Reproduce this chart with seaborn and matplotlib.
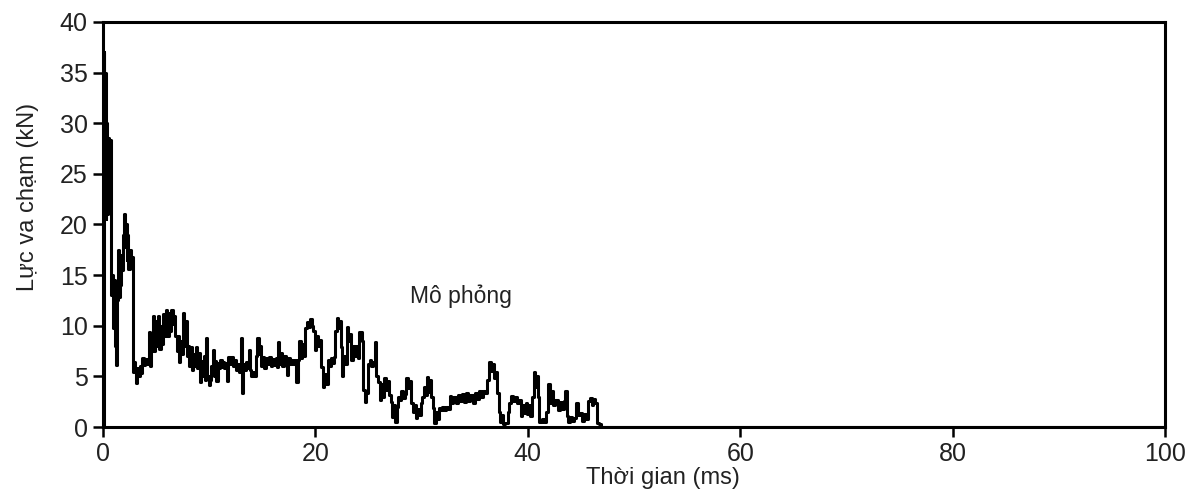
import pandas as pd
import matplotlib
matplotlib.use("Agg")
import matplotlib.pyplot as plt
import seaborn as sns

# Impact force trace (time in ms, force in kN)
time_ms = [
    0.00, 0.05, 0.12, 0.18, 0.25, 0.32, 0.40, 0.45, 0.55, 0.65, 0.72, 0.80, 0.88, 0.95, 1.02,
    1.10, 1.18, 1.25, 1.32, 1.40, 1.48, 1.56, 1.64, 1.72, 1.82, 1.90, 1.98, 2.06, 2.14, 2.22,
    2.30, 2.40, 2.50, 2.60, 2.68, 2.78, 2.90, 3.00, 3.10, 3.22, 3.34, 3.45, 3.56, 3.70, 3.84,
    3.98, 4.12, 4.30, 4.40, 4.55, 4.70, 4.80, 4.92, 5.05, 5.18, 5.30, 5.42, 5.55, 5.68, 5.80,
    5.92, 6.05, 6.18, 6.30, 6.42, 6.55, 6.68, 6.82, 6.95, 7.05, 7.15, 7.28, 7.42, 7.55, 7.65,
    7.75, 7.88, 8.00, 8.12, 8.25, 8.38, 8.50, 8.62, 8.75, 8.88, 9.00, 9.12, 9.25, 9.38, 9.50,
    9.62, 9.72, 9.82, 9.95, 10.07, 10.20, 10.32, 10.42, 10.55, 10.68, 10.80, 10.92, 11.05, 11.18, 11.30,
    11.42, 11.55, 11.68, 11.80, 11.95, 12.10, 12.25, 12.40, 12.55, 12.70, 12.85, 13.00, 13.08, 13.18, 13.30,
    13.45, 13.60, 13.72, 13.84, 13.96, 14.10, 14.25, 14.40, 14.52, 14.65, 14.80, 14.92, 15.05, 15.20, 15.35,
    15.50, 15.65, 15.80, 15.95, 16.10, 16.25, 16.38, 16.50, 16.62, 16.75, 16.90, 17.05, 17.20, 17.30, 17.42,
    17.58, 17.72, 17.88, 18.05, 18.20, 18.35, 18.50, 18.62, 18.75, 18.90, 19.05, 19.20, 19.35, 19.50, 19.65,
    19.80, 19.95, 20.10, 20.25, 20.40, 20.55, 20.70, 20.85, 21.00, 21.15, 21.30, 21.45, 21.60, 21.75, 21.88,
    22.00, 22.12, 22.25, 22.38, 22.50, 22.62, 22.80, 22.95, 23.10, 23.25, 23.40, 23.55, 23.70, 23.85, 24.00,
    24.15, 24.35, 24.50, 24.65, 24.80, 24.95, 25.10, 25.25, 25.45, 25.60, 25.75, 25.90, 26.05, 26.20, 26.35,
    26.50, 26.65, 26.80, 26.95, 27.10, 27.25, 27.40, 27.52, 27.65, 27.80, 27.95, 28.10, 28.25, 28.40, 28.55,
    28.70, 28.85, 29.00, 29.15, 29.30, 29.45, 29.60, 29.75, 29.90, 30.05, 30.20, 30.35, 30.50, 30.62, 30.75,
    30.90, 31.05, 31.20, 31.35, 31.50, 31.62, 31.80, 31.95, 32.10, 32.30, 32.50, 32.65, 32.80, 33.00, 33.20,
    33.40, 33.60, 33.80, 34.00, 34.20, 34.40, 34.60, 34.80, 35.00, 35.20, 35.40, 35.60, 35.80, 36.00, 36.20,
    36.35, 36.50, 36.65, 36.80, 36.95, 37.10, 37.25, 37.40, 37.55, 37.70, 37.90, 38.10, 38.25, 38.40, 38.60,
    38.80, 39.00, 39.20, 39.35, 39.50, 39.65, 39.80, 39.95, 40.10, 40.25, 40.40, 40.55, 40.68, 40.80, 40.95,
    41.10, 41.30, 41.50, 41.70, 41.90, 42.05, 42.20, 42.40, 42.60, 42.80, 43.00, 43.20, 43.40, 43.50, 43.65,
    43.80, 44.00, 44.15, 44.35, 44.55, 44.70, 44.90, 45.10, 45.30, 45.50, 45.70, 45.85, 46.00, 46.15, 46.30,
    46.50, 46.70, 46.85, 100.0,
]
force_kn = [
    0.0, 37.0, 24.0, 35.0, 20.5, 30.0, 21.0, 28.5, 27.3, 28.3, 27.8, 13.0, 15.0, 9.8, 14.5,
    8.0, 13.0, 6.1, 12.5, 17.5, 12.8, 16.5, 14.0, 17.0, 15.5, 19.0, 21.0, 17.8, 20.0, 16.5,
    19.0, 15.6, 17.5, 15.8, 16.8, 5.4, 6.4, 5.5, 4.3, 5.8, 5.0, 6.0, 5.3, 6.8, 6.1,
    6.7, 6.2, 9.4, 6.0, 7.5, 11.0, 7.5, 10.5, 8.0, 11.0, 7.7, 10.0, 8.2, 11.2, 9.0,
    11.6, 9.0, 11.3, 9.5, 11.6, 10.2, 11.0, 9.0, 7.5, 9.0, 6.4, 8.5, 7.2, 11.3, 8.0,
    10.5, 7.0, 8.0, 6.0, 7.9, 5.6, 7.2, 6.0, 7.9, 5.8, 7.3, 4.4, 6.5, 5.0, 7.0,
    4.6, 8.8, 5.0, 4.1, 4.6, 6.0, 7.6, 5.0, 6.5, 4.5, 6.3, 5.8, 6.6, 5.9, 6.4,
    5.8, 6.3, 4.5, 6.9, 6.2, 6.9, 6.0, 6.6, 5.6, 6.2, 5.4, 8.8, 3.4, 6.2, 5.6,
    6.4, 5.8, 7.6, 5.6, 5.0, 5.4, 5.0, 7.0, 8.8, 7.2, 8.0, 6.0, 6.9, 5.8, 6.8,
    6.2, 6.9, 6.0, 6.7, 6.1, 6.8, 5.9, 8.4, 6.2, 7.3, 6.0, 7.0, 6.2, 5.1, 6.8,
    6.2, 6.6, 6.2, 6.6, 4.4, 6.6, 8.5, 6.8, 8.2, 7.0, 9.8, 10.4, 9.9, 10.7, 10.0,
    9.5, 7.6, 9.0, 8.0, 8.6, 5.9, 4.0, 5.2, 4.2, 6.6, 6.0, 6.8, 6.3, 6.9, 9.5,
    10.8, 9.8, 10.5, 7.9, 5.0, 7.0, 6.2, 9.9, 8.5, 9.2, 6.6, 8.0, 7.0, 8.0, 6.8,
    9.4, 8.5, 3.7, 2.5, 3.4, 6.2, 6.6, 6.0, 6.4, 8.4, 5.0, 4.4, 2.7, 4.2, 3.0,
    4.8, 3.7, 4.5, 3.2, 2.5, 1.0, 2.2, 0.5, 2.0, 3.0, 2.7, 3.6, 2.9, 3.3, 4.8,
    3.9, 4.5, 2.4, 1.5, 2.2, 0.9, 1.8, 1.2, 2.4, 3.0, 4.0, 3.2, 4.9, 3.5, 4.6,
    3.0, 1.9, 0.4, 1.5, 0.8, 1.9, 1.7, 2.0, 1.7, 2.0, 1.8, 3.1, 2.4, 3.0, 2.4,
    3.2, 2.6, 3.3, 2.5, 3.4, 2.6, 3.2, 2.4, 3.4, 2.8, 3.6, 3.0, 3.6, 3.4, 4.6,
    6.4, 5.5, 6.2, 4.8, 5.4, 3.4, 1.5, 0.5, 1.2, 0.3, 0.4, 1.5, 2.4, 3.1, 2.6,
    3.0, 2.4, 2.7, 1.1, 2.2, 1.4, 2.4, 1.3, 2.2, 1.1, 3.0, 5.4, 4.0, 5.0, 3.0,
    0.5, 0.8, 0.5, 1.5, 4.2, 2.4, 3.6, 2.2, 2.7, 1.7, 2.5, 1.8, 2.6, 3.6, 1.1,
    0.5, 1.0, 0.6, 0.9, 2.4, 1.2, 1.4, 0.6, 1.3, 0.8, 2.6, 2.9, 2.2, 2.8, 2.4,
    0.4, 0.3, 0.0, 0.0,
]

x_ticks = [0, 20, 40, 60, 80, 100]
y_ticks = [0, 5, 10, 15, 20, 25, 30, 35, 40]
series_label = "Mô phỏng"

sns.set_theme(style="ticks")
plt.rcParams['font.family'] = ['Liberation Sans', 'DejaVu Sans']
text_color = "#222222"

df = pd.DataFrame({"t": time_ms, "f": force_kn})

fig = plt.figure(figsize=(11.96, 5.01), dpi=100)
ax = fig.add_axes([0.0861, 0.1477, 0.888, 0.8084])

sns.lineplot(data=df, x="t", y="f", ax=ax, color="black", linewidth=2.2,
             drawstyle="steps-post", estimator=None, sort=False)

ax.set_xlim(0, 100)
ax.set_ylim(0, 40)
ax.set_xticks(x_ticks)
ax.set_yticks(y_ticks)
ax.tick_params(direction="out", length=7, width=1.8, labelsize=18,
               colors="black", labelcolor=text_color, pad=4)
for s in ax.spines.values():
    s.set_linewidth(2.2)
    s.set_color("black")

# axis labels sit a bit off-centre in the original
ax.set_xlabel("Thời gian (ms)", fontsize=17, color=text_color)
ax.set_ylabel("Lực va chạm (kN)", fontsize=17, color=text_color)
ax.xaxis.set_label_coords(0.527, -0.098)
ax.yaxis.set_label_coords(-0.060, 0.568)

ax.text(28.9, 12.9, series_label, fontsize=16.5, color=text_color, va="center", ha="left")

fig.savefig("out.png", dpi=100)
